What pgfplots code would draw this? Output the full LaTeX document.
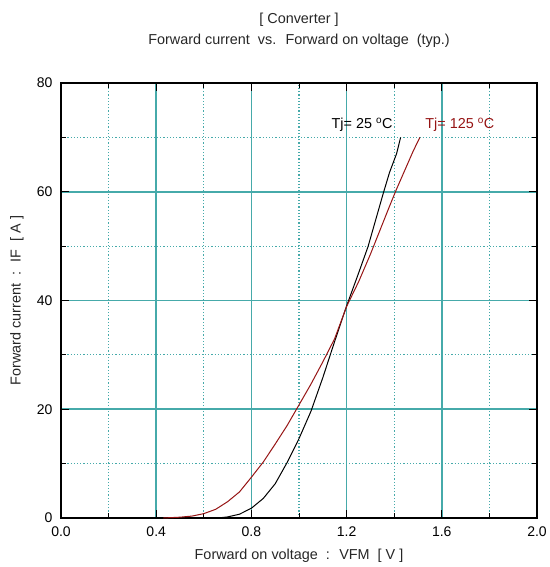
\documentclass[border=0pt]{standalone}
\usepackage{fontspec}
\setmainfont{Liberation Sans}
\usepackage{pgfplots}
\pgfplotsset{compat=1.18}
\definecolor{gridteal}{RGB}{70,170,170}
\definecolor{hotred}{RGB}{150,20,20}
\begin{document}
\begin{tikzpicture}[font=\fontsize{14.4pt}{17pt}\selectfont]
\begin{axis}[
    name=ax,
    scale only axis,
    width=476pt, height=435pt,
    xmin=0, xmax=2.0, ymin=0, ymax=80,
    xtick={0,0.4,...,2.0},
    minor xtick={0.2,0.6,1.0,1.4,1.8},
    ytick={0,20,40,60,80},
    minor ytick={10,30,50,70},
    tick align=inside,
    major tick length=8pt, minor tick length=5pt,
    tick style={black, line width=1.2pt},
    minor tick style={black, line width=1pt},
    axis line style={black, line width=1.5pt},
    grid=both,
    major grid style={gridteal, line width=1.6pt},
    minor grid style={gridteal, line width=1.2pt, dotted},
    xticklabel style={/pgf/number format/.cd, fixed, fixed zerofill, precision=1},
    /pgf/number format/assume math mode=true,
    xticklabel shift=5pt,
    yticklabel shift=5pt,
    ticklabel style={font=\fontsize{14pt}{16pt}\selectfont},
    clip=false
    ]
\addplot [black, line width=1pt] coordinates {
    (0.66,0) (0.70,0.2) (0.75,0.7) (0.80,1.8) (0.85,3.6) (0.90,6.3)
    (0.95,10.2) (1.00,14.6) (1.05,19.6) (1.10,25.8) (1.15,32.5)
    (1.20,39.0) (1.25,45.0) (1.29,49.9) (1.32,54.5) (1.354,59.7)
    (1.38,63.5) (1.41,67.0) (1.427,70.0)};
\addplot [hotred, line width=1pt] coordinates {
    (0.43,0) (0.50,0.15) (0.55,0.35) (0.60,0.8) (0.65,1.6) (0.70,3.0)
    (0.75,4.8) (0.80,7.5) (0.85,10.3) (0.90,13.6) (0.95,17.0)
    (1.00,20.8) (1.05,24.6) (1.10,28.7) (1.15,33.0) (1.20,38.9)
    (1.25,43.4) (1.30,48.5) (1.34,52.9) (1.38,57.3) (1.41,60.5)
    (1.45,64.5) (1.48,67.5) (1.508,70.0)};
\node [black] at (axis cs:1.265,72.3) {Tj= 25 \textsuperscript{o}C};
\node [hotred] at (axis cs:1.676,72.3) {Tj= 125 \textsuperscript{o}C};
\end{axis}
\node [text=black!85] at ([yshift=63pt]ax.north) {[ Converter ]};
\node [text=black!85] at ([yshift=42pt]ax.north) {Forward current \ vs. \ Forward on voltage \ (typ.)};
\node [text=black!85] at ([yshift=-38pt]ax.south) {Forward on voltage \ : \ VFM \ [ V ]};
\node [text=black!85, rotate=90] at ([xshift=-44pt]ax.west) {Forward current \ : \ IF \ [ A ]};
\pgfresetboundingbox
\path [use as bounding box] ([xshift=-61pt,yshift=-49pt]ax.south west) rectangle ([xshift=12pt,yshift=83pt]ax.north east);
\end{tikzpicture}
\end{document}
